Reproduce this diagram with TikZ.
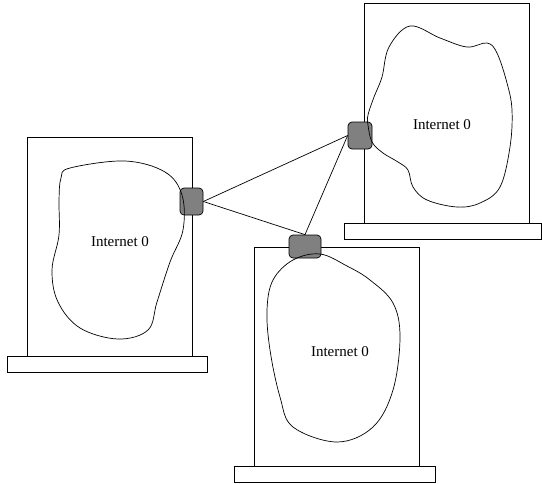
\documentclass[tikz,border=0pt]{standalone}
\usepackage{fontspec}
\setmainfont{Liberation Serif}
\begin{document}
\begin{tikzpicture}[x=1pt,y=-1pt,
  frame/.style={draw=black,line width=0.7pt,fill=white,inner sep=0pt,minimum width=165pt,minimum height=219pt},
  basebar/.style={draw=black,line width=0.7pt,fill=white,inner sep=0pt,minimum height=16pt},
  gw/.style={draw=black,line width=0.7pt,fill=black!50,rounded corners=4pt,inner sep=0pt},
  blob/.style={draw=black,line width=0.7pt},
  link/.style={draw=black,line width=0.7pt},
  lbl/.style={font=\fontsize{15}{18}\selectfont}]
\useasboundingbox (0,0) rectangle (542,483);
% frames and bases
\node[frame] (lbox) at (109.5,246.5) {};
\node[basebar,minimum width=200pt] (lbase) at (107,364) {};
\node[frame,minimum height=220pt] (rbox) at (446.5,113) {};
\node[basebar,minimum width=197pt] (rbase) at (442.5,231) {};
\node[frame] (bbox) at (336.5,356.5) {};
\node[basebar,minimum width=201pt] (bbase) at (334.5,474) {};
% gateways
\node[gw,minimum width=23pt,minimum height=27pt] (lg) at (191.5,201.5) {};
\node[gw,minimum width=24pt,minimum height=27pt] (rg) at (360,135.5) {};
\node[gw,minimum width=32pt,minimum height=23pt] (bg) at (305,246.5) {};
% blobs
\draw[blob] plot[smooth cycle,tension=0.6] coordinates {
  (70,168) (125,161) (165,172) (182,195) (183,230) (170,262) (157,302)
  (148,330) (118,339) (80,328) (58,302) (52,270) (59,235) (59,200) (61,178)};
\draw[blob] plot[smooth cycle,tension=0.6] coordinates {
  (368,115) (374,97) (382,77) (389,47) (410,26) (440,38) (467,47) (487,43)
  (497,53) (507,83) (512,110) (510,147) (500,187) (480,203) (457,207)
  (427,200) (413,187) (408,170) (398,162) (383,153) (372,142) (368,125)};
\draw[blob] plot[smooth cycle,tension=0.6] coordinates {
  (320,254) (293,260) (273,280) (267,310) (270,350) (280,397) (293,427)
  (337,442) (373,427) (393,390) (400,337) (393,303) (370,280) (347,266)};
% labels
\node[lbl] (ltxt) at (120,242) {Internet 0};
\node[lbl] (rtxt) at (442,125) {Internet 0};
\node[lbl] (btxt) at (340,352) {Internet 0};
% links
\draw[link] (lg.east) -- (rg.west);
\draw[link] (lg.east) -- (bg.north);
\draw[link] (rg.west) -- (bg.north);
\end{tikzpicture}
\end{document}
